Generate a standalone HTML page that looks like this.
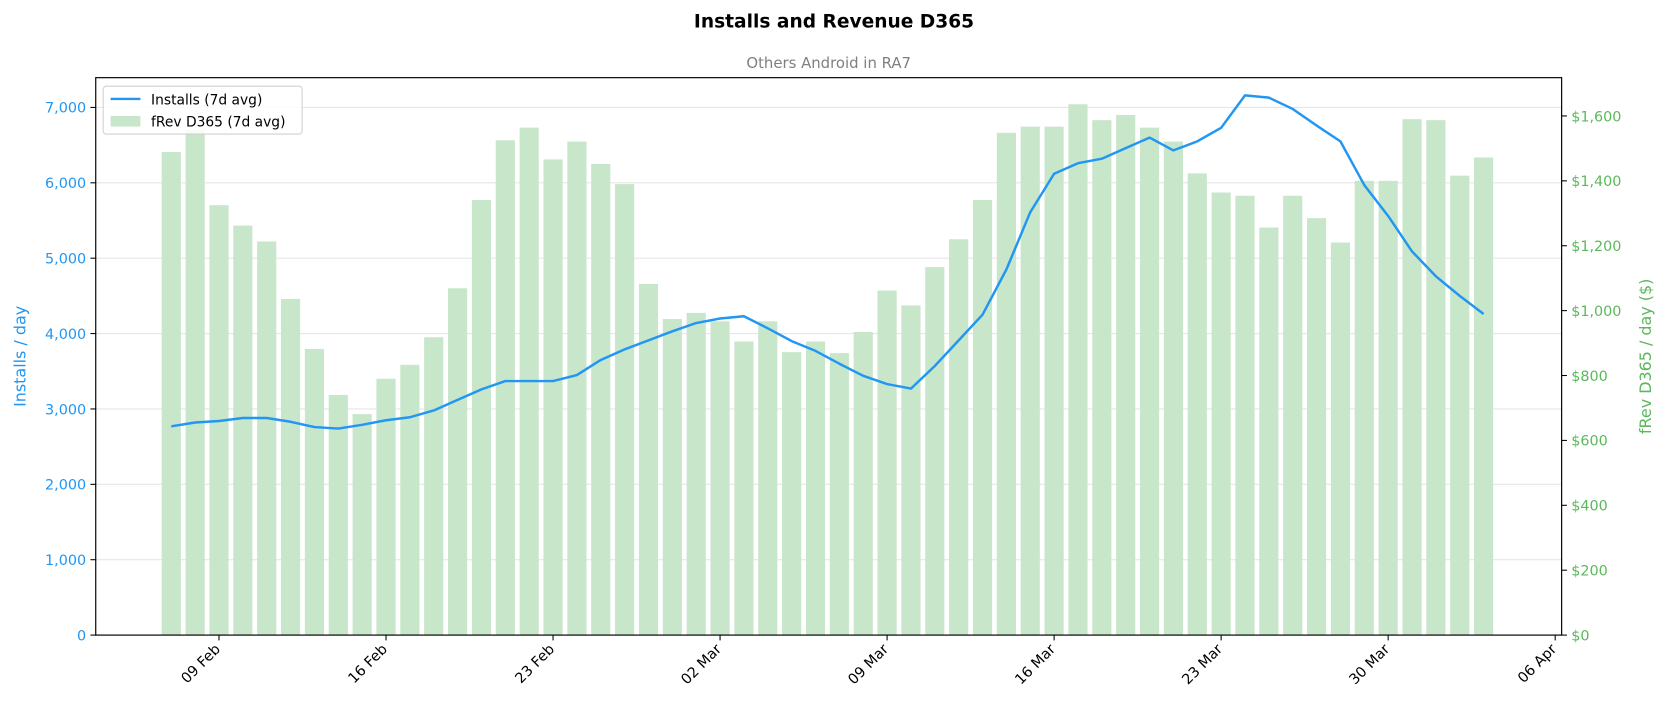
<!DOCTYPE html>
<html><head><meta charset="utf-8"><style>
html,body{margin:0;padding:0;width:1668px;height:712px;overflow:hidden;background:#fff;font-family:"Liberation Sans","DejaVu Sans",sans-serif}
svg{display:block;position:absolute;left:0;top:0}
svg text{font-family:"DejaVu Sans","Liberation Sans",sans-serif}
</style></head><body>
<svg id="c" width="1668" height="712" viewBox="0 0 1568 669.3" xmlns="http://www.w3.org/2000/svg"></svg>
<script>
const dates=["Feb7","Feb8","Feb9","Feb10","Feb11","Feb12","Feb13","Feb14","Feb15","Feb16","Feb17","Feb18","Feb19","Feb20","Feb21","Feb22","Feb23","Feb24","Feb25","Feb26","Feb27","Feb28","Mar1","Mar2","Mar3","Mar4","Mar5","Mar6","Mar7","Mar8","Mar9","Mar10","Mar11","Mar12","Mar13","Mar14","Mar15","Mar16","Mar17","Mar18","Mar19","Mar20","Mar21","Mar22","Mar23","Mar24","Mar25","Mar26","Mar27","Mar28","Mar29","Mar30","Mar31","Apr1","Apr2","Apr3"];
const revenue=[1489,1557,1325,1262,1213,1036,882,740,681,790,833,918,1069,1341,1525,1564,1466,1521,1452,1390,1082,974,993,967,905,967,872,905,869,934,1062,1016,1134,1220,1341,1548,1567,1567,1636,1587,1603,1564,1521,1423,1364,1354,1256,1354,1285,1210,1400,1400,1590,1587,1416,1472];
const installs=[2770,2820,2840,2880,2880,2830,2760,2740,2790,2850,2890,2980,3120,3260,3370,3370,3370,3450,3650,3790,3910,4030,4140,4200,4230,4070,3900,3770,3600,3440,3330,3270,3570,3910,4250,4850,5610,6120,6260,6320,6460,6600,6430,6550,6730,7160,7130,6980,6760,6550,5970,5560,5090,4760,4500,4260];
const leftTicks=[0,1000,2000,3000,4000,5000,6000,7000];
const rightTicks=[0,200,400,600,800,1000,1200,1400,1600];
const xTickLabels=["09 Feb","16 Feb","23 Feb","02 Mar","09 Mar","16 Mar","23 Mar","30 Mar","06 Apr"];
const xTickIdx=[2,9,16,23,30,37,44,51,58];

const L=90,R=1468,T=73,B=597;
const yL=v=>B-v*(B-T)/7395;
const yR=v=>B-v*(B-T)/1718;
const xD=i=>161+i*22.43;
const NS="http://www.w3.org/2000/svg";
const svg=document.getElementById('c');
function mk(tag,attrs,parent){const e=document.createElementNS(NS,tag);for(const k in attrs)e.setAttribute(k,attrs[k]);(parent||svg).appendChild(e);return e;}

leftTicks.forEach(v=>{const g=mk('line',{x1:L,x2:R,y1:yL(v),y2:yL(v),stroke:'#e6e6e6','stroke-width':1});

});
revenue.forEach((v,i)=>{const b=mk('rect',{x:xD(i)-9,y:yR(v),width:18,height:B-yR(v),fill:'#c8e6c9'});

});
const pl=mk('polyline',{points:installs.map((v,i)=>xD(i)+','+yL(v)).join(' '),fill:'none',stroke:'#2196f3','stroke-width':2.3,'stroke-linejoin':'round'});


const fr=mk('rect',{x:L,y:T,width:R-L,height:B-T,fill:'none',stroke:'#000','stroke-width':1.1});


leftTicks.forEach(v=>{const y=yL(v);mk('line',{x1:L-5,x2:L,y1:y,y2:y,stroke:'#000'});
const t=mk('text',{x:L-9,y:y+5,'text-anchor':'end','font-size':13.5,fill:'#2196f3'});t.textContent=v.toLocaleString('en-US');

});
rightTicks.forEach(v=>{const y=yR(v);mk('line',{x1:R,x2:R+5,y1:y,y2:y,stroke:'#000'});
const t=mk('text',{x:R+9,y:y+5,'font-size':13.5,fill:'#5cb85c'});t.textContent='$'+v.toLocaleString('en-US');

});
xTickIdx.forEach((d,k)=>{const x=xD(d);mk('line',{x1:x,x2:x,y1:B,y2:B+5,stroke:'#000'});
const t=mk('text',{x:x+2,y:B+14,'text-anchor':'end','font-size':13.5,fill:'#000',transform:`rotate(-45 ${x+2} ${B+14})`});t.textContent=xTickLabels[k];

});
</script>
<svg width="1668" height="712" viewBox="0 0 1568 669.3" xmlns="http://www.w3.org/2000/svg">
<text x="784" y="26" text-anchor="middle" font-size="17.5" font-weight="bold">Installs and Revenue D365</text>
<text x="779" y="64" text-anchor="middle" font-size="14" fill="#808080">Others Android in RA7</text>
<text transform="translate(24 335) rotate(-90)" text-anchor="middle" font-size="15" fill="#2196f3">Installs / day</text>
<text transform="translate(1552 335) rotate(-90)" text-anchor="middle" font-size="15" fill="#5cb85c">fRev D365 / day ($)</text>
<g>
<rect x="97" y="81" width="187" height="45" rx="3" fill="#fff" fill-opacity="0.85" stroke="#d0d0d0"/>
<line x1="104" x2="132" y1="93" y2="93" stroke="#2196f3" stroke-width="2.3"/>
<text x="142" y="98" font-size="13">Installs (7d avg)</text>
<rect x="104" y="109" width="28" height="10" fill="#c8e6c9"/>
<text x="142" y="119" font-size="13">fRev D365 (7d avg)</text>
</g>
</svg>
</body></html>
